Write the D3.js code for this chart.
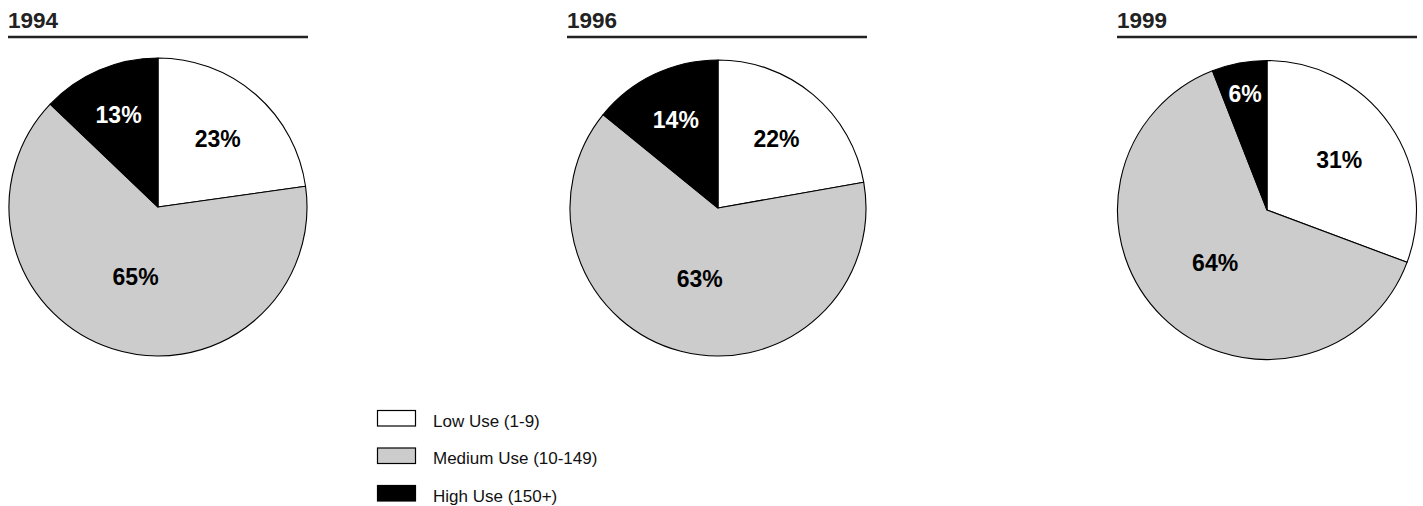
<!DOCTYPE html>
<html>
<head>
<meta charset="utf-8">
<script src="https://cdn.jsdelivr.net/npm/d3@7"></script>
<style>
  html, body { margin: 0; padding: 0; background: #fff; }
  svg { display: block; font-family: "Liberation Sans", Arial, Helvetica, sans-serif; }
</style>
</head>
<body>
<svg id="chart" width="1423" height="506"></svg>
<script>
// Share of users by usage level, one pie per survey year
const years = ["1994", "1996", "1999"];
const categories = ["Low Use (1-9)", "Medium Use (10-149)", "High Use (150+)"];
const low    = [23, 22, 31];
const medium = [65, 63, 64];
const high   = [13, 14, 6];

const colors = d3.scaleOrdinal()
  .domain(categories)
  .range(["#ffffff", "#cccccc", "#000000"]);
const labelColors = d3.scaleOrdinal()
  .domain(categories)
  .range(["#000000", "#000000", "#ffffff"]);

// Layout of the three panels
const panels = [
  { left: 8,    cx: 158,  cy: 207, r: 149 },
  { left: 567,  cx: 718,  cy: 208, r: 148 },
  { left: 1117, cx: 1267, cy: 210, r: 149.5 }
];

const svg = d3.select("#chart");

const pie = d3.pie().sort(null).value(d => d.value);

// Smaller slices carry their label further out from the centre
const labelRatio = d3.scaleLinear()
  .domain([0.06, 0.13, 0.23, 0.65])
  .range([0.79, 0.67, 0.61, 0.49])
  .clamp(true);

years.forEach((year, i) => {
  const p = panels[i];
  const data = categories.map((c, k) => ({
    category: c,
    value: [low, medium, high][k][i]
  }));
  const total = d3.sum(data, d => d.value);

  // Title and rule
  svg.append("text")
    .attr("x", p.left)
    .attr("y", 27.5)
    .attr("font-size", 22.5)
    .attr("font-weight", "bold")
    .attr("fill", "#222")
    .text(year);
  svg.append("line")
    .attr("x1", p.left).attr("x2", p.left + 300)
    .attr("y1", 37).attr("y2", 37)
    .attr("stroke", "#222")
    .attr("stroke-width", 2.4);

  const g = svg.append("g").attr("transform", `translate(${p.cx},${p.cy})`);
  const arc = d3.arc().innerRadius(0).outerRadius(p.r);
  const arcs = pie(data);

  g.selectAll("path")
    .data(arcs)
    .join("path")
    .attr("d", arc)
    .attr("fill", d => colors(d.data.category))
    .attr("stroke", "#000")
    .attr("stroke-width", 1.1)
    .attr("stroke-linejoin", "round");

  g.selectAll("text")
    .data(arcs)
    .join("text")
    .attr("transform", d => {
      const frac = d.data.value / total;
      const rr = p.r * labelRatio(frac);
      const a = (d.startAngle + d.endAngle) / 2;
      return `translate(${rr * Math.sin(a)},${-rr * Math.cos(a)})`;
    })
    .attr("text-anchor", "middle")
    .attr("dy", "0.36em")
    .attr("font-size", 23)
    .attr("font-weight", "bold")
    .attr("fill", d => labelColors(d.data.category))
    .text(d => d.data.value + "%");
});

// Legend
const legend = svg.append("g").attr("transform", "translate(377,410)");
const rowStep = 37.5;
const items = legend.selectAll("g")
  .data(categories)
  .join("g")
  .attr("transform", (d, k) => `translate(0,${k * rowStep})`);
items.append("rect")
  .attr("x", 0.5).attr("y", 0.5)
  .attr("width", 38).attr("height", 15.5)
  .attr("fill", d => colors(d))
  .attr("stroke", "#000")
  .attr("stroke-width", 1.2);
items.append("text")
  .attr("x", 56)
  .attr("y", 16.5)
  .attr("font-size", 17)
  .attr("fill", "#111")
  .text(d => d);
</script>
</body>
</html>
